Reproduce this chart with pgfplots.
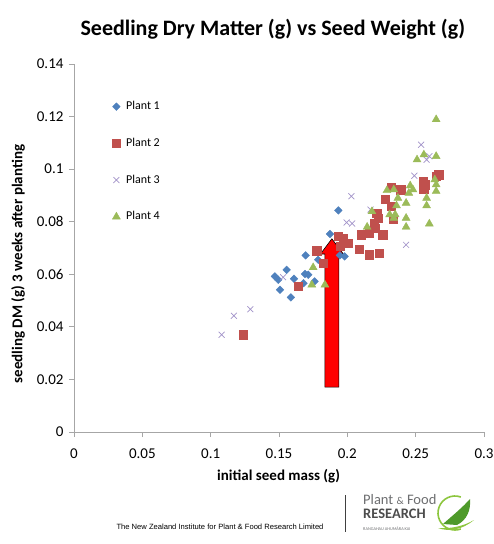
\documentclass[border=0pt]{standalone}
\usepackage{pgfplots}
\pgfplotsset{compat=1.18}
\usepackage{fontspec}
\setmainfont{Carlito}
\newfontfamily\arialfont{Liberation Sans}

\definecolor{plantA}{HTML}{4F81BD}
\definecolor{plantB}{HTML}{C0504D}
\definecolor{plantC}{HTML}{A293C9}
\definecolor{plantD}{HTML}{9BBB59}
\definecolor{axisgray}{HTML}{A6A6A6}
\definecolor{logogreen}{HTML}{8DC63F}
\definecolor{logodark}{HTML}{4E9A2A}
\definecolor{logotext}{HTML}{6D6E70}

\pgfplotsset{
  lgd/.style={legend image code/.code={\draw[##1] plot coordinates {(0cm,0cm)}; \path (0.3cm,0cm);}},
}

\begin{document}
\begin{tikzpicture}
\begin{axis}[
  at={(0pt,0pt)}, anchor=south west,
  scale only axis, width=410pt, height=368pt,
  xmin=0, xmax=0.3, ymin=0, ymax=0.14,
  axis x line=bottom, axis y line=left,
  axis line style={-, draw=axisgray, line width=0.8pt},
  xtick={0,0.05,0.1,0.15,0.2,0.25,0.3},
  ytick={0,0.02,0.04,0.06,0.08,0.1,0.12,0.14},
  tick align=outside, major tick length=5pt,
  tick style={draw=axisgray, line width=0.8pt},
  /pgf/number format/assume math mode=true,
  /pgf/number format/fixed,
  /pgf/number format/precision=2,
  tick label style={font=\fontsize{15}{17}\selectfont, black},
  xticklabel style={yshift=-8pt},
  yticklabel style={xshift=-2pt},
  title={Seedling Dry Matter (g) vs Seed Weight (g)},
  title style={font=\bfseries\fontsize{22}{26}\selectfont, at={(0.485,1.06)}, anchor=base},
  xlabel={initial seed mass (g)},
  xlabel style={font=\bfseries\fontsize{15}{18}\selectfont, at={(0.499,-0.133)}, anchor=base},
  ylabel={seedling DM (g) 3 weeks after planting},
  ylabel style={font=\bfseries\fontsize{15}{18}\selectfont, at={(-0.1366,0.4565)}, anchor=center},
  legend style={at={(axis cs:0.0278,0.1265)}, anchor=north west, draw=none, fill=none,
    font=\fontsize{12}{14}\selectfont, row sep=22.7pt, inner sep=0pt,
    nodes={text height=9pt, text depth=3pt, inner sep=1pt}},
  legend cell align=left,
]
% Plant 1
\addplot[only marks, mark=square*, mark size=2.7pt, mark options={rotate=45, fill=plantA, draw=plantA}, lgd] coordinates {
(0.147,0.0592) (0.1495,0.0579) (0.1556,0.0617) (0.1507,0.0541) (0.1587,0.0512)
(0.161,0.0583) (0.169,0.0601) (0.1714,0.0598) (0.176,0.0573) (0.168,0.0566)
(0.1695,0.0672) (0.1787,0.0655) (0.1873,0.0753) (0.1934,0.0843) (0.198,0.0668)
(0.1946,0.0672)
};
\addlegendentry{Plant 1}
% Plant 2
\addplot[only marks, mark=square*, mark size=4.2pt, mark options={fill=plantB, draw=plantB}, lgd] coordinates {
(0.124,0.037) (0.164,0.0554) (0.1775,0.069) (0.1824,0.0642)
(0.197,0.0738) (0.1935,0.0745) (0.2007,0.0719) (0.1946,0.0706) (0.2087,0.0696)
(0.216,0.0674) (0.2231,0.068) (0.210,0.075) (0.216,0.0757) (0.220,0.0776)
(0.226,0.075) (0.2195,0.0795) (0.2226,0.0814) (0.2215,0.0833) (0.2336,0.081)
(0.232,0.0858) (0.2275,0.0886) (0.232,0.0932) (0.239,0.0922) (0.257,0.0941)
(0.2555,0.0955) (0.256,0.0925) (0.265,0.0973) (0.267,0.0979)
};
\addlegendentry{Plant 2}
% Plant 3
\addplot[only marks, mark=x, mark size=4.2pt, mark options={draw=plantC, line width=0.7pt}, lgd] coordinates {
(0.108,0.0370) (0.117,0.0442) (0.129,0.0467) (0.153,0.0589)
(0.1995,0.0797) (0.2035,0.0793) (0.203,0.0897) (0.217,0.0846)
(0.243,0.0712) (0.249,0.0975) (0.254,0.1093) (0.258,0.1036) (0.260,0.1049)
};
\addlegendentry{Plant 3}
% Plant 4
\addplot[only marks, mark=triangle*, mark size=4.6pt, mark options={fill=plantD, draw=plantD}, lgd] coordinates {
(0.175,0.0626) (0.174,0.056) (0.1836,0.056) (0.2145,0.078) (0.218,0.0839)
(0.229,0.0919) (0.234,0.0922) (0.237,0.089) (0.243,0.0871) (0.236,0.0861)
(0.231,0.0827) (0.235,0.0827) (0.243,0.0814) (0.234,0.0814) (0.243,0.078)
(0.245,0.0909) (0.246,0.0937) (0.248,0.0922) (0.251,0.1036) (0.256,0.1055)
(0.265,0.1049) (0.264,0.096) (0.265,0.0941) (0.265,0.0916) (0.258,0.089)
(0.258,0.0861) (0.260,0.0792) (0.265,0.1189)
};
\addlegendentry{Plant 4}
% highlight arrow
\draw[black, line width=0.6pt, fill=red, line join=miter]
  (axis cs:0.1836,0.0171) -- (axis cs:0.1836,0.0677) -- (axis cs:0.1803,0.0677)
  -- (axis cs:0.1887,0.0735) -- (axis cs:0.1971,0.0677) -- (axis cs:0.1938,0.0677)
  -- (axis cs:0.1938,0.0171) -- cycle;
\end{axis}

% footer
\node[font=\arialfont\fontsize{7.6}{8}\selectfont, anchor=center] at (146pt,-95pt)
  {The New Zealand Institute for Plant \& Food Research Limited};
\draw[black!75, line width=1pt] (271.7pt,-63pt) -- (271.7pt,-99.7pt);
\node[anchor=base west, inner sep=0pt, text=logotext, font=\fontsize{14.5}{16}\selectfont] at (289pt,-72pt)
  {Plant {\fontsize{10.5}{11}\selectfont\&} Food};
\node[anchor=base west, inner sep=0pt, text=black!70, font=\bfseries\fontsize{14.5}{16}\selectfont] at (289pt,-86pt)
  {RESEARCH};
\node[anchor=base west, inner sep=0pt, text=logotext, font=\fontsize{4.3}{5}\selectfont] at (289pt,-98pt)
  {RANGAHAU AHUMĀRA KAI};
% logo
\draw[logogreen, line width=1.6pt] (381pt,-81pt) ++(70:17pt) arc (70:290:17pt);
\fill[logodark] (369pt,-92pt) .. controls (378pt,-84pt) and (388pt,-76pt) .. (396pt,-67pt)
  .. controls (397pt,-78pt) and (393pt,-88pt) .. (383pt,-93pt) -- cycle;
\fill[logogreen] (364pt,-96pt) .. controls (375pt,-100pt) and (388pt,-98pt) .. (400pt,-88pt)
  .. controls (390pt,-94pt) and (377pt,-97pt) .. (364pt,-96pt) -- cycle;

\pgfresetboundingbox
\path[use as bounding box] (-74pt,-112pt) rectangle (420pt,432pt);
\end{tikzpicture}
\end{document}
